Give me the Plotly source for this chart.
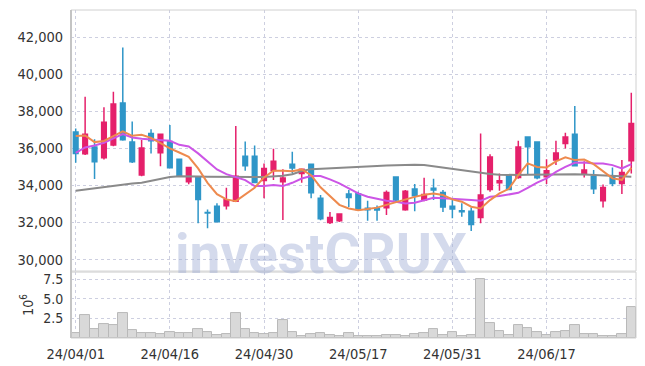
import plotly.graph_objects as go

dates = ["24/04/01", "24/04/02", "24/04/03", "24/04/04", "24/04/05", "24/04/08", "24/04/09",
         "24/04/11", "24/04/12", "24/04/15", "24/04/16", "24/04/17", "24/04/18", "24/04/19",
         "24/04/22", "24/04/23", "24/04/24", "24/04/25", "24/04/26", "24/04/29", "24/04/30",
         "24/05/02", "24/05/03", "24/05/07", "24/05/08", "24/05/09", "24/05/10", "24/05/13",
         "24/05/14", "24/05/16", "24/05/17", "24/05/20", "24/05/21", "24/05/22", "24/05/23",
         "24/05/24", "24/05/27", "24/05/28", "24/05/29", "24/05/30", "24/05/31", "24/06/03",
         "24/06/04", "24/06/05", "24/06/07", "24/06/10", "24/06/11", "24/06/12", "24/06/13",
         "24/06/14", "24/06/17", "24/06/18", "24/06/19", "24/06/20", "24/06/21", "24/06/24",
         "24/06/25", "24/06/26", "24/06/27", "24/06/28"]

opens = [36880, 35710, 36070, 35490, 36180, 38450, 36340, 34560, 36810, 35760,
         36380, 35420, 34200, 34470, 32530, 32880, 32900, 33150, 35580, 35580,
         34270, 34810, 34200, 35150, 34650, 35150, 33310, 32000, 32090, 33530,
         33550, 32760, 32770, 32790, 34450, 32680, 33800, 33210, 33850, 33620,
         32880, 32630, 32610, 32270, 33780, 34140, 34540, 34430, 36610, 36340,
         34470, 35370, 36270, 36770, 34650, 34500, 33170, 34470, 34110, 35330]
highs = [37080, 38790, 36490, 38220, 39060, 41460, 37460, 36450, 37030, 36810,
         37260, 35440, 35000, 34500, 32700, 33030, 33870, 37210, 36380, 36160,
         35190, 35980, 34870, 35820, 34920, 35160, 33480, 32570, 32470, 33750,
         33660, 33170, 32920, 33730, 34460, 33750, 34070, 34410, 34360, 33750,
         33280, 33030, 32810, 36810, 35680, 34650, 34600, 36410, 36620, 36360,
         35410, 36410, 36840, 38290, 35310, 34830, 34050, 34970, 35370, 39010]
lows = [35220, 35640, 34340, 35400, 36120, 36410, 35210, 34500, 35730, 35040,
        34930, 34460, 34060, 31950, 31680, 32000, 32700, 33100, 34790, 34140,
        33300, 34290, 32130, 34650, 34140, 33300, 32120, 31910, 32020, 32840,
        32690, 32090, 32090, 32400, 33100, 32630, 32600, 33150, 33210, 32570,
        32220, 32300, 31530, 31950, 33660, 33710, 33760, 34360, 34560, 34330,
        34070, 35100, 36000, 35050, 34430, 33530, 32810, 33960, 33530, 34650]
closes = [35730, 36760, 35280, 37420, 38400, 36470, 35280, 36020, 36410, 36760,
          34950, 34500, 34970, 33240, 32510, 32030, 33220, 34500, 35060, 34160,
          34920, 35300, 34400, 34940, 34870, 33600, 32200, 32270, 32450, 33350,
          32700, 32680, 32670, 33620, 33210, 33690, 33440, 33510, 33750, 32840,
          32720, 32580, 31890, 33480, 35530, 34250, 33780, 36070, 36090, 34410,
          34790, 35750, 36610, 35060, 34830, 33820, 33890, 34110, 34700, 37350]

ma_short = [36665, 36700, 36341, 36400, 36665, 36919, 36680, 36735, 36573, 36300,
            36000, 35780, 35546, 34919, 34141, 33530, 33244, 33152, 33514, 33871,
            34433, 34790, 34790, 34770, 34865, 34550, 33900, 33400, 32950, 32757,
            32665, 32720, 32800, 32950, 33100, 33220, 33380, 33500, 33560, 33480,
            33244, 33120, 32850, 32757, 33206, 33568, 33817, 34557, 35190, 35000,
            34973, 35300, 35514, 35368, 35400, 35150, 34780, 34379, 34300, 34950]
ma_mid = [35762, 36054, 36162, 36303, 36541, 36773, 36595, 36519, 36487, 36449,
          36411, 36195, 36100, 35730, 35276, 34865, 34611, 34433, 34287, 33963,
          33963, 34017, 33963, 34141, 34370, 34503, 34503, 34325, 34109, 33838,
          33568, 33384, 33276, 33168, 33114, 33027, 33060, 33206, 33330, 33300,
          33260, 33206, 33206, 33168, 33384, 33422, 33530, 33600, 33871, 34150,
          34379, 34735, 35006, 35222, 35240, 35190, 35190, 35098, 34919, 35152]
ma_long = [33710, 33780, 33840, 33900, 33960, 34050, 34100, 34140, 34250, 34380,
           34460, 34500, 34510, 34480, 34470, 34460, 34450, 34440, 34440, 34450,
           34460, 34470, 34520, 34600, 34780, 34880, 34900, 34910, 34930, 34950,
           34980, 35020, 35050, 35080, 35100, 35110, 35120, 35100, 35030, 34950,
           34890, 34810, 34740, 34670, 34620, 34580, 34560, 34560, 34570, 34580,
           34600, 34610, 34610, 34600, 34590, 34570, 34550, 34530, 34500, 34470]

vol_millions = [0.6, 2.9, 1.1, 1.75, 1.6, 3.15, 1.0, 0.6, 0.6, 0.5,
                0.75, 0.6, 0.6, 1.1, 0.75, 0.4, 0.5, 3.15, 1.1, 0.6,
                0.5, 0.6, 2.25, 0.75, 0.25, 0.5, 0.6, 0.4, 0.25, 0.6,
                0.25, 0.2, 0.2, 0.35, 0.35, 0.25, 0.5, 0.6, 1.1, 0.35,
                0.75, 0.25, 0.35, 7.55, 1.95, 0.85, 0.35, 1.6, 1.25, 0.75,
                0.35, 0.75, 0.85, 1.6, 0.5, 0.5, 0.25, 0.25, 0.5, 3.95]

price_ticks = [30000, 32000, 34000, 36000, 38000, 40000, 42000]
vol_ticks = [2.5, 5.0, 7.5]
vol_tick_text = ["2.5", "5.0", "7.5"]
x_ticks = dates[::10]

FONT = "DejaVu Sans Condensed, DejaVu Sans, sans-serif"
RED = "#e5206b"
BLUE = "#2f96c8"
GRID = "#cdcfe0"

fig = go.Figure()

fig.add_trace(go.Bar(
    x=dates, y=vol_millions, yaxis="y2", xaxis="x",
    marker=dict(color="#d9d9d9", line=dict(color="#b9b9b9", width=1)),
    width=1.0, showlegend=False, hoverinfo="skip"))

fig.add_trace(go.Scatter(x=dates, y=ma_long, mode="lines", yaxis="y",
                         line=dict(color="#8a8a8a", width=2), showlegend=False))
fig.add_trace(go.Scatter(x=dates, y=ma_mid, mode="lines", yaxis="y",
                         line=dict(color="#cc55e6", width=2), showlegend=False))
fig.add_trace(go.Scatter(x=dates, y=ma_short, mode="lines", yaxis="y",
                         line=dict(color="#ee8a4e", width=2), showlegend=False))

fig.add_trace(go.Candlestick(
    x=dates, open=opens, high=highs, low=lows, close=closes, yaxis="y",
    increasing=dict(line=dict(color=RED, width=1.5), fillcolor=RED),
    decreasing=dict(line=dict(color=BLUE, width=1.5), fillcolor=BLUE),
    whiskerwidth=0, showlegend=False))

# The page body has an 8px default margin, so the figure is sized to fit inside it.
fig.update_layout(
    width=637, height=358,
    margin=dict(l=63, r=9, t=2, b=28, autoexpand=False),
    paper_bgcolor="white", plot_bgcolor="white",
    font=dict(family=FONT, color="#333333", size=14.5),
    showlegend=False,
    bargap=0,
    xaxis=dict(
        type="category", categoryorder="array", categoryarray=dates,
        range=[-0.5, len(dates) - 0.5], autorange=False, anchor="y2",
        tickmode="array", tickvals=x_ticks, ticktext=x_ticks,
        showgrid=True, gridcolor=GRID, griddash="dot", gridwidth=1,
        ticks="outside", ticklen=3, tickcolor="rgba(0,0,0,0)",
        tickfont=dict(family=FONT, size=14.5, color="#333333"),
        rangeslider=dict(visible=False), showline=False, zeroline=False,
        automargin=False),
    yaxis=dict(
        domain=[0.204, 1], range=[29370, 43480], autorange=False,
        tickmode="array", tickvals=price_ticks, tickformat=",",
        showgrid=True, gridcolor=GRID, griddash="dot", gridwidth=1,
        ticks="outside", ticklen=4, tickcolor="rgba(0,0,0,0)",
        tickfont=dict(family=FONT, size=14.5, color="#333333"),
        zeroline=False, showline=False, automargin=False),
    yaxis2=dict(
        domain=[0, 0.201], range=[0, 8.45], autorange=False,
        tickmode="array", tickvals=vol_ticks, ticktext=vol_tick_text,
        showgrid=True, gridcolor=GRID, griddash="dot", gridwidth=1,
        ticks="outside", ticklen=4, tickcolor="rgba(0,0,0,0)",
        tickfont=dict(family=FONT, size=14, color="#333333"),
        title=dict(text="10<sup>6</sup>", font=dict(family=FONT, size=14, color="#333333"),
                   standoff=6),
        zeroline=False, showline=False, automargin=False),
    shapes=[
        dict(type="rect", xref="paper", yref="paper", x0=0, x1=1, y0=0.204, y1=1,
             line=dict(color="#d0d0d0", width=1)),
        dict(type="rect", xref="paper", yref="paper", x0=0, x1=1, y0=0, y1=0.201,
             line=dict(color="#d0d0d0", width=1)),
        dict(type="line", xref="paper", yref="paper", x0=0, x1=0, y0=0, y1=1,
             line=dict(color="#c4c4c4", width=2)),
    ],
    annotations=[
        dict(text="<b>investCRUX</b>", xref="paper", yref="paper", x=0.443, y=0.255,
             xanchor="center", yanchor="middle", showarrow=False,
             font=dict(family="Roboto, Liberation Sans, sans-serif", size=55,
                       color="rgba(160,172,212,0.45)")),
    ],
)

fig.write_html("out.html")
